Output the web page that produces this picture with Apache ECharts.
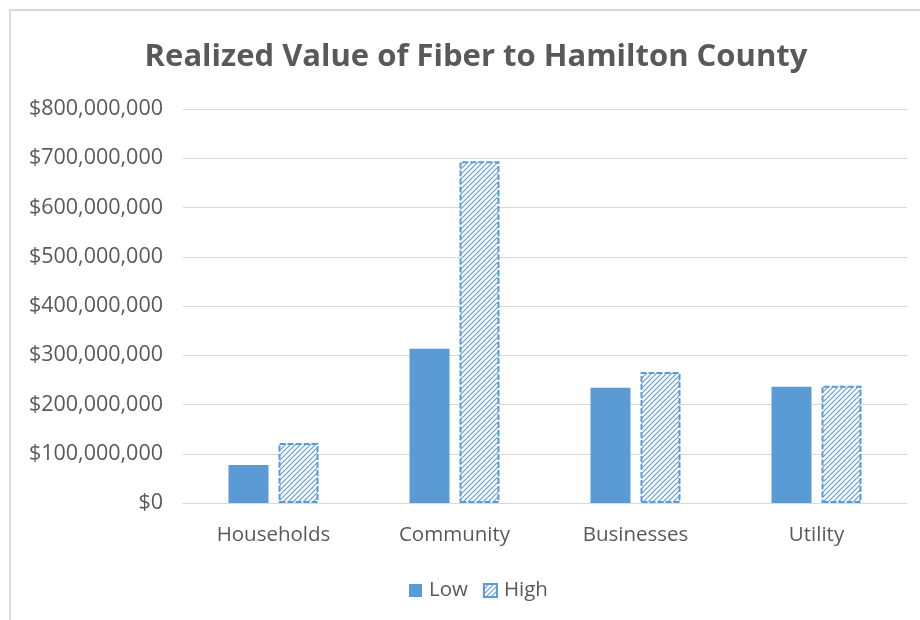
<!DOCTYPE html>
<html>
<head>
<meta charset="utf-8">
<script src="https://cdn.jsdelivr.net/npm/echarts@6/dist/echarts.min.js"></script>
<style>
  html, body { margin: 0; padding: 0; background: #fff; overflow: hidden; }
  #frame {
    position: absolute; left: 9px; top: 9px; width: 1000px; height: 1000px;
    border: 2px solid #d9d9d9; box-sizing: border-box;
  }
  #chart { position: absolute; left: 0; top: 0; width: 920px; height: 620px; }
</style>
</head>
<body>
<div id="frame"></div>
<div id="chart"></div>
<script>
const categories = ["Households", "Community", "Businesses", "Utility"];
const lowValues = [77000000, 313000000, 234000000, 236000000];
const highValues = [122000000, 694000000, 266000000, 238000000];
const yTicks = { min: 0, max: 800000000, interval: 100000000 };

const blue = "#5b9bd5";
const textColor = "#595959";
const font = "Open Sans";

// diagonal hatch for the "High" series
function hatch() {
  const c = document.createElement("canvas");
  c.width = 5;
  c.height = 5;
  const ctx = c.getContext("2d");
  ctx.fillStyle = "#fff";
  ctx.fillRect(0, 0, 5, 5);
  ctx.strokeStyle = blue;
  ctx.lineWidth = 1.1;
  ctx.beginPath();
  ctx.moveTo(0, 5); ctx.lineTo(5, 0);
  ctx.moveTo(-2.5, 2.5); ctx.lineTo(2.5, -2.5);
  ctx.moveTo(2.5, 7.5); ctx.lineTo(7.5, 2.5);
  ctx.stroke();
  return c;
}

const chart = echarts.init(document.getElementById("chart"));
chart.setOption({
  animation: false,
  textStyle: { fontFamily: font },
  title: {
    text: "Realized Value of Fiber to Hamilton County",
    left: 471,
    textAlign: "center",
    top: 37,
    textStyle: { fontFamily: font, fontSize: 31, fontWeight: "bold", color: textColor },
  },
  legend: {
    top: 575,
    left: 404,
    itemWidth: 13,
    itemHeight: 13,
    itemGap: 15,
    icon: "rect",
    textStyle: { fontFamily: font, fontSize: 20.5, color: textColor, padding: [0, 0, 0, 2] },
    data: ["Low", "High"],
  },
  grid: { left: 183, right: 13, top: 109, bottom: 117 },
  xAxis: {
    type: "category",
    data: categories,
    axisTick: { show: false },
    axisLine: { lineStyle: { color: "#d9d9d9", width: 1 } },
    axisLabel: { color: textColor, fontSize: 20.5, margin: 22 },
  },
  yAxis: {
    type: "value",
    min: yTicks.min,
    max: yTicks.max,
    interval: yTicks.interval,
    axisLine: { show: false },
    axisTick: { show: false },
    splitLine: { lineStyle: { color: "#d9d9d9", width: 1 } },
    axisLabel: {
      color: textColor,
      fontSize: 21.5,
      margin: 20,
      formatter: (v) => "$" + v.toLocaleString("en-US"),
    },
  },
  series: [
    {
      name: "Low",
      type: "bar",
      data: lowValues,
      barWidth: 40,
      barGap: "25%",
      itemStyle: { color: blue },
    },
    {
      name: "High",
      type: "bar",
      data: highValues,
      barWidth: 40,
      itemStyle: {
        color: { image: hatch(), repeat: "repeat" },
        borderColor: blue,
        borderWidth: 2,
        borderType: [6, 2],
      },
    },
  ],
});
</script>
</body>
</html>
